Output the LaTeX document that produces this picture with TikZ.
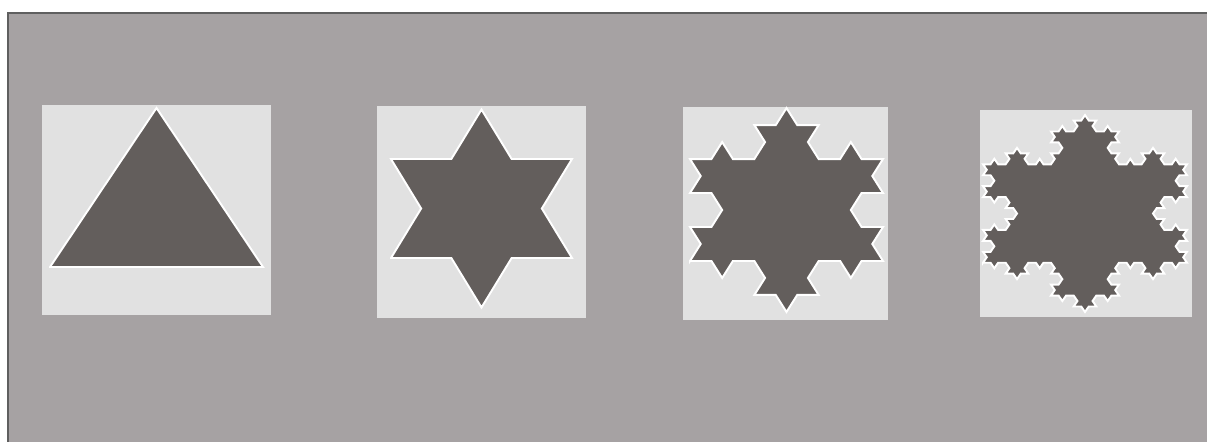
\documentclass[tikz,border=0pt]{standalone}
\usetikzlibrary{lindenmayersystems}

\pgfdeclarelindenmayersystem{Koch flake}{\rule{F -> F-F++F-F}}

\definecolor{bggray}{RGB}{166,162,163}
\definecolor{framegray}{RGB}{95,95,95}
\definecolor{panelgray}{RGB}{225,225,225}
\definecolor{kochgray}{RGB}{99,94,92}

% #1,#2 centre, #3 side, #4 vertical squash, #5 order
\newcommand{\kochflake}[5]{%
  \pgfmathsetmacro\kstep{#3*0.02/(3^#5)}%
  \begin{scope}[shift={({#1-#3/2},{#2-#4*#3*0.288675})}, yscale=#4]
    \fill[flake, l-system={Koch flake, axiom=F++F++F, order=#5, step=\kstep cm, angle=60}]
      (0,0) lindenmayer system -- cycle;
  \end{scope}}

\begin{document}
\begin{tikzpicture}[
  x=0.02cm, y=0.02cm,
  panel/.style 2 args={rectangle, fill=panelgray, inner sep=0pt, minimum width=#1, minimum height=#2},
  flake/.style={fill=kochgray, draw=white, line width=1.1pt, line join=miter}
]
\useasboundingbox (0,0) rectangle (1207,442);
\fill[white] (0,0) rectangle (1207,442);
\fill[bggray] (7,0) rectangle (1207,430);
\draw[framegray, line width=1.2pt] (8,0) -- (8,429) -- (1207,429);

% panels
\node[panel={4.58cm}{4.2cm}] (p1) at (156.5,232) {};
\node[panel={4.18cm}{4.24cm}] (p2) at (481.5,230) {};
\node[panel={4.1cm}{4.26cm}] (p3) at (785.5,228.5) {};
\node[panel={4.24cm}{4.14cm}] (p4) at (1086,228.5) {};

% the four stages
\kochflake{156.5}{228}{213}{0.862}{0}
\kochflake{481.5}{233.5}{181}{0.947}{1}
\kochflake{786.5}{232}{193}{0.915}{2}
\kochflake{1085}{228.5}{204}{0.836}{3}
\end{tikzpicture}
\end{document}
